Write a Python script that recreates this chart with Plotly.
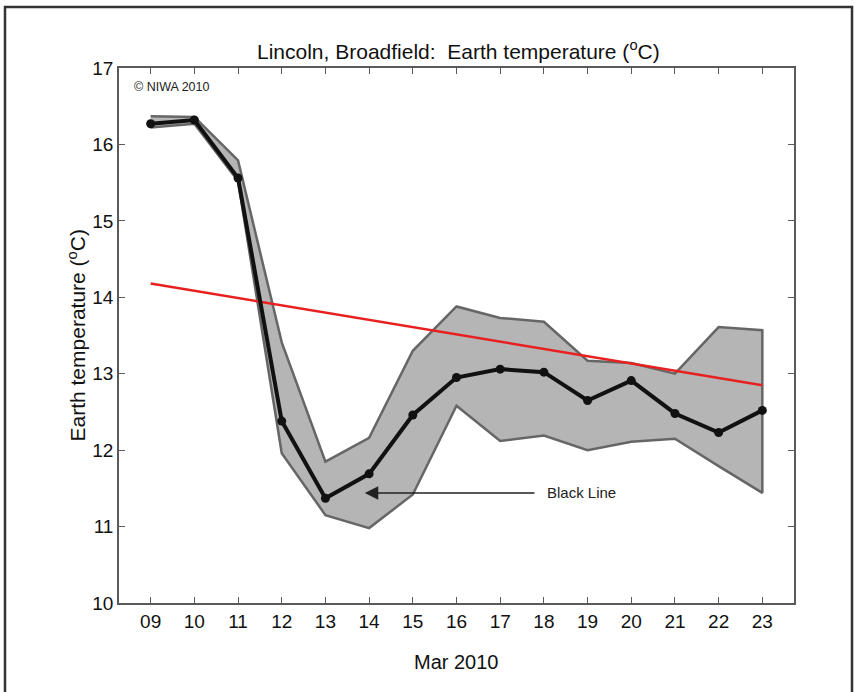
import plotly.graph_objects as go

# ---- data ----
days = [9, 10, 11, 12, 13, 14, 15, 16, 17, 18, 19, 20, 21, 22, 23]
day_labels = ["09", "10", "11", "12", "13", "14", "15", "16", "17", "18", "19", "20", "21", "22", "23"]
black_line = [16.27, 16.32, 15.56, 12.38, 11.37, 11.69, 12.46, 12.95, 13.06, 13.02, 12.65, 12.91, 12.48, 12.23, 12.52]
band_upper = [16.37, 16.36, 15.79, 13.41, 11.85, 12.16, 13.30, 13.88, 13.73, 13.68, 13.17, 13.14, 13.00, 13.61, 13.57]
band_lower = [16.22, 16.27, 15.52, 11.96, 11.15, 10.98, 11.42, 12.58, 12.12, 12.19, 12.00, 12.11, 12.15, 11.79, 11.44]
trend_x = [9, 23]
trend_y = [14.18, 12.85]
y_ticks = [10, 11, 12, 13, 14, 15, 16, 17]

W, H = 855, 692
L, R, T, B = 119, 61, 68, 89
pw, ph = W - L - R, H - T - B

def px_x(x):
    return (x - L) / pw

def px_y(y):
    return (H - B - y) / ph

FONT = "Liberation Sans, Arial, sans-serif"
AX = "#5a5a5a"

fig = go.Figure()

fig.add_trace(go.Scatter(
    x=days + days[::-1], y=band_upper + band_lower[::-1],
    fill="toself", fillcolor="#b5b5b5",
    line=dict(color="#666666", width=2.5),
    mode="lines", hoverinfo="skip", showlegend=False))

fig.add_trace(go.Scatter(
    x=trend_x, y=trend_y, mode="lines",
    line=dict(color="#e8201f", width=2.5), showlegend=False))

fig.add_trace(go.Scatter(
    x=days, y=black_line, mode="lines+markers",
    line=dict(color="#111111", width=4),
    marker=dict(color="#111111", size=9), showlegend=False))

axis_common = dict(showgrid=False, zeroline=False, showline=True, linecolor=AX, linewidth=1.5,
                   ticks="inside", ticklen=6, tickwidth=1.2, tickcolor=AX, mirror="ticks",
                   tickfont=dict(family=FONT, size=19, color="#111"))

fig.update_xaxes(range=[8.275, 23.725], tickvals=days, ticktext=day_labels, **axis_common)
fig.update_yaxes(range=[10, 17], tickvals=y_ticks, **axis_common)

fig.add_annotation(x=13.9, y=11.44, ax=17.82, ay=11.44, xref="x", yref="y", axref="x", ayref="y",
                   text="", showarrow=True, arrowhead=2, arrowsize=1.8, arrowwidth=1.5,
                   arrowcolor="#222222")
fig.add_annotation(x=18.02, y=11.44, xref="x", yref="y", text="Black Line", showarrow=False,
                   xanchor="left", yanchor="middle", font=dict(family=FONT, size=15, color="#222"))

fig.add_annotation(x=px_x(132), y=px_y(87), xref="paper", yref="paper", text="© NIWA 2010",
                   showarrow=False, xanchor="left", yanchor="middle",
                   font=dict(family=FONT, size=12.5, color="#222"))

fig.add_annotation(x=px_x(458), y=px_y(50), xref="paper", yref="paper",
                   text="Lincoln, Broadfield:\u00a0 Earth temperature (<sup>o</sup>C)",
                   showarrow=False, xanchor="center", yanchor="middle",
                   font=dict(family=FONT, size=21, color="#111"))

fig.add_annotation(x=0.5, y=px_y(662), xref="paper", yref="paper", text="Mar 2010",
                   showarrow=False, xanchor="center", yanchor="middle",
                   font=dict(family=FONT, size=20, color="#111"))

fig.add_annotation(x=px_x(76), y=0.5, xref="paper", yref="paper",
                   text="Earth temperature (<sup>o</sup>C)", textangle=-90,
                   showarrow=False, xanchor="center", yanchor="middle",
                   font=dict(family=FONT, size=21, color="#111"))

fig.add_shape(type="rect", xref="paper", yref="paper",
              x0=px_x(5), x1=px_x(852), y0=px_y(705), y1=px_y(7),
              line=dict(color="#333333", width=2.5), fillcolor="rgba(0,0,0,0)", layer="above")

fig.update_layout(width=W, height=H, margin=dict(l=L, r=R, t=T, b=B),
                  paper_bgcolor="white", plot_bgcolor="white", showlegend=False)

fig.write_html("out.html", config={"displayModeBar": False},
               post_script="document.body.style.margin='0';"
                           "document.body.style.overflow='hidden';"
                           "document.documentElement.style.overflow='hidden';")
